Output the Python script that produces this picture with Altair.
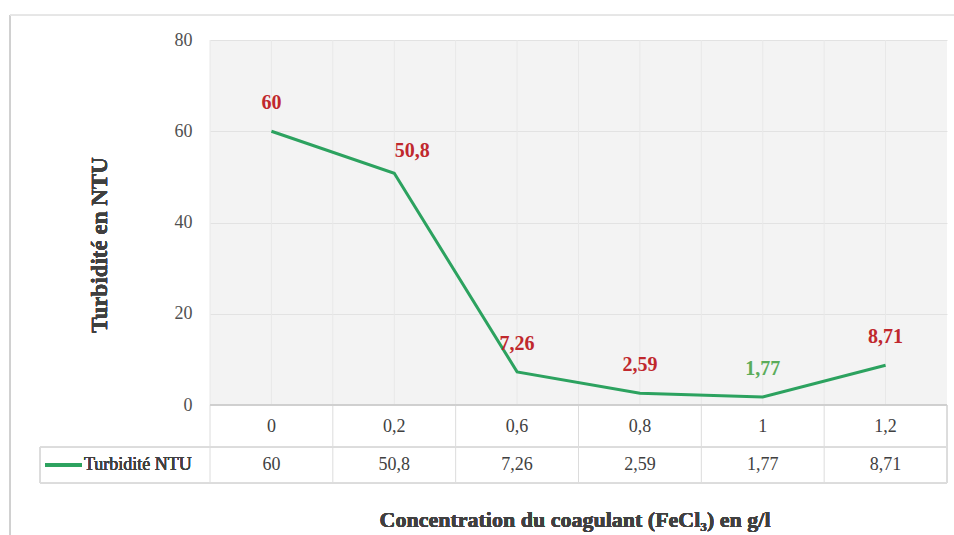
import altair as alt
import pandas as pd

# Coagulant doses (g/l) and measured turbidity (NTU)
concentrations = ["0", "0,2", "0,6", "0,8", "1", "1,2"]
turbidity = [60, 50.8, 7.26, 2.59, 1.77, 8.71]
turbidity_labels = ["60", "50,8", "7,26", "2,59", "1,77", "8,71"]

series_name = "Turbidité NTU"
y_title = "Turbidité en NTU"
x_title = "Concentration du coagulant (FeCl\u2083) en g/l"

df = pd.DataFrame({"conc": concentrations, "ntu": turbidity, "lab": turbidity_labels})

W, H = 737, 365
FONT = "'Liberation Serif', 'Times New Roman', 'DejaVu Serif', serif"
LINE = "#2ca25f"
RED = "#c0282d"
GREEN_LAB = "#5aac5a"
TXT = "#404040"
GRID = "#dcdcdc"

xs = alt.Scale(type="band", domain=concentrations, paddingInner=0, paddingOuter=0)
ys = alt.Scale(domain=[0, 80])
X = alt.X("conc:N", scale=xs, axis=None)
Y = alt.Y("ntu:Q", scale=ys,
          axis=alt.Axis(values=[0, 20, 40, 60, 80], grid=True, gridColor="#e2e2e2",
                        domain=False, ticks=False, labelFont=FONT, labelFontSize=18,
                        labelColor="#505050", labelPadding=18, title=None))

base = alt.Chart(df)

# vertical grid in the plot area: band centres and band edges
grid_c = base.mark_rule(color="#e8e8e8", strokeWidth=1).encode(
    x=X, y=alt.value(0), y2=alt.value(H))
grid_e = base.mark_rule(color="#e8e8e8", strokeWidth=1).encode(
    x=alt.X("conc:N", scale=xs, axis=None, bandPosition=0), y=alt.value(0), y2=alt.value(H))

# axis frame holding the y labels and horizontal grid
axis_layer = base.mark_point(opacity=0).encode(x=X, y=Y)

line = base.mark_line(color=LINE, strokeWidth=3).encode(x=X, y=Y)

lab_main = base.transform_filter(alt.datum.conc != "0,2").mark_text(
    font=FONT, fontSize=20, fontWeight="bold", dy=-28).encode(
    x=X, y=Y, text="lab:N",
    color=alt.condition(alt.datum.conc == "1", alt.value(GREEN_LAB), alt.value(RED)))
lab_side = base.transform_filter(alt.datum.conc == "0,2").mark_text(
    font=FONT, fontSize=20, fontWeight="bold", dx=18, dy=-22, color=RED).encode(
    x=X, y=Y, text="lab:N")

# data table under the plot
row1_y, row2_y = 387, 425
t_top, t_mid, t_bot = H, 407, 443
tab_x = base.mark_text(font=FONT, fontSize=18, color=TXT).encode(
    x=X, y=alt.value(row1_y), text="conc:N")
tab_v = base.mark_text(font=FONT, fontSize=18, color=TXT).encode(
    x=X, y=alt.value(row2_y), text="lab:N")
tab_vlines = base.mark_rule(color=GRID).encode(
    x=alt.X("conc:N", scale=xs, axis=None, bandPosition=0),
    y=alt.value(t_top), y2=alt.value(t_bot))
tab_right = base.mark_rule(color=GRID).encode(
    x=alt.value(W), y=alt.value(t_top), y2=alt.value(t_bot))
tab_h0 = base.mark_rule(color="#cfcfcf").encode(x=alt.value(0), x2=alt.value(W), y=alt.value(t_top))
tab_h1 = base.mark_rule(color=GRID).encode(x=alt.value(-170), x2=alt.value(W), y=alt.value(t_mid))
tab_h2 = base.mark_rule(color=GRID).encode(x=alt.value(-170), x2=alt.value(W), y=alt.value(t_bot))
tab_left = base.mark_rule(color=GRID).encode(x=alt.value(-170), y=alt.value(t_mid), y2=alt.value(t_bot))

leg_line = base.mark_rule(color=LINE, strokeWidth=3).encode(
    x=alt.value(-165), x2=alt.value(-128), y=alt.value(row2_y))
leg_text = base.mark_text(font=FONT, fontSize=18, color=TXT, align="left").encode(
    x=alt.value(-126), y=alt.value(row2_y), text=alt.value(series_name))

ttl_y = base.mark_text(font=FONT, fontSize=23, fontWeight="bold", color=TXT, angle=270).encode(
    x=alt.value(-110), y=alt.value(205), text=alt.value(y_title))
ttl_x = base.mark_text(font=FONT, fontSize=22, fontWeight="bold", color=TXT).encode(
    x=alt.value(365), y=alt.value(480), text=alt.value(x_title))

# outer chart-area border
frame_l = base.mark_rule(color="#d0d0d0").encode(x=alt.value(-200), y=alt.value(-25), y2=alt.value(495))
frame_t = base.mark_rule(color="#e6e6e6").encode(x=alt.value(-200), x2=alt.value(744), y=alt.value(-25))

chart = alt.layer(
    grid_c, grid_e, axis_layer, line, lab_main, lab_side,
    tab_x, tab_v, tab_vlines, tab_right, tab_h0, tab_h1, tab_h2, tab_left,
    leg_line, leg_text, ttl_y, ttl_x, frame_l, frame_t,
).properties(
    width=W, height=H,
    autosize=alt.AutoSizeParams(type="none"),
    padding={"left": 210, "top": 40, "right": 7, "bottom": 130},
    background="white",
).configure_view(fill="#f3f3f3", stroke=None)

chart.save("out.html", embed_options={"renderer": "svg", "actions": False})
